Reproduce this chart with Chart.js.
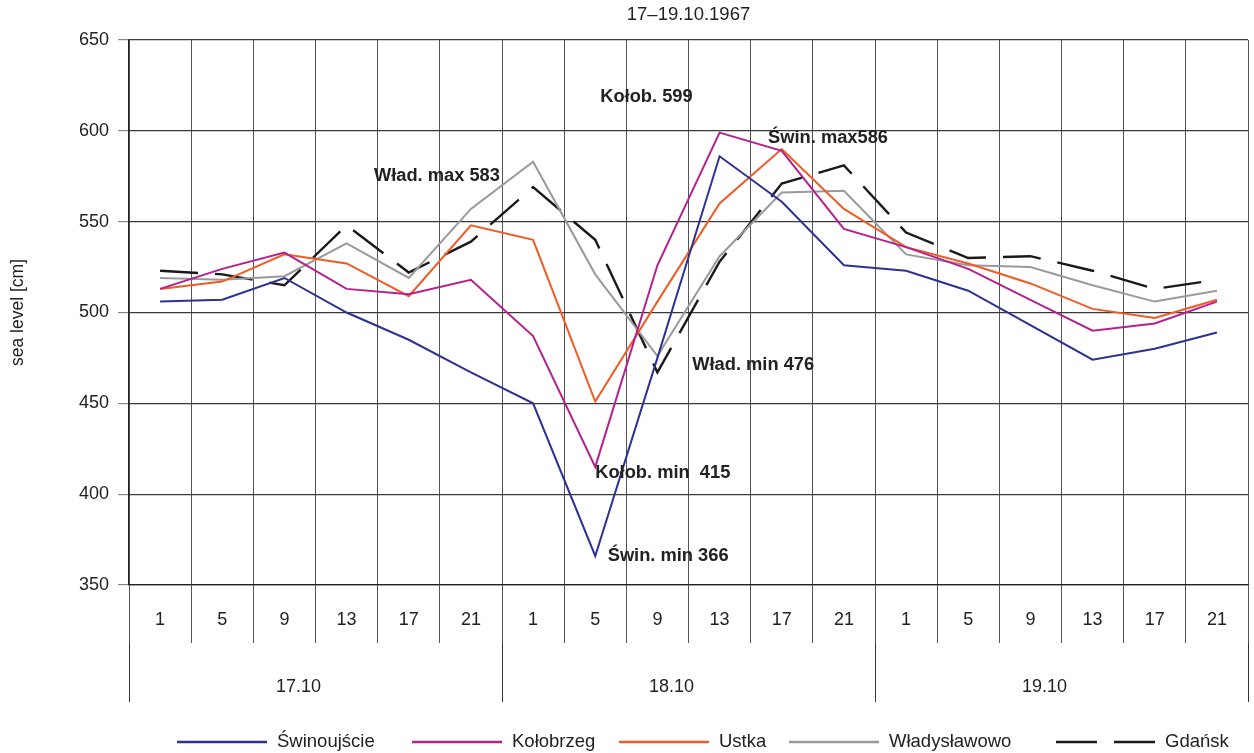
<!DOCTYPE html>
<html>
<head>
<meta charset="utf-8">
<script src="https://cdn.jsdelivr.net/npm/chart.js@4/dist/chart.umd.min.js"></script>
<style>
  html, body { margin: 0; padding: 0; background: #fff; }
  #wrap { width: 1254px; height: 753px; }
</style>
</head>
<body>
<div id="wrap"><canvas id="wykres"></canvas></div>
<script>
// godziny pomiarów (3 dni po 6 terminów)
const hours = ['1', '5', '9', '13', '17', '21', '1', '5', '9', '13', '17', '21', '1', '5', '9', '13', '17', '21'];
const days = ['17.10', '18.10', '19.10'];
const yTicks = [350, 400, 450, 500, 550, 600, 650];

// poziom morza [cm]
const swinoujscie = [506, 507, 519, 500, 485, 467, 450, 366, 475, 586, 561, 526, 523, 512, 493, 474, 480, 489];
const kolobrzeg = [513, 524, 533, 513, 510, 518, 487, 415, 526, 599, 589, 546, 536, 524, 507, 490, 494, 506];
const ustka = [513, 517, 532, 527, 509, 548, 540, 451, 506, 560, 590, 557, 536, 527, 516, 502, 497, 507];
const wladyslawowo = [519, 518, 520, 538, 519, 557, 583, 521, 476, 531, 566, 567, 532, 526, 525, 515, 506, 512];
const gdansk = [523, 521, 515, 548, 522, 539, 569, 540, 467, 528, 571, 581, 544, 530, 531, 523, 513, 518];

const tytul = '17–19.10.1967';

// opisy ekstremów: at = indeks kategorii (ułamkowy), v = wartość na osi y
const opisy = [
    { text: 'Kołob. 599', at: 7.08, v: 618.6 },
    { text: 'Świn. max586', at: 9.78, v: 596 },
    { text: 'Wład. max 583', at: 3.44, v: 575 },
    { text: 'Wład. min 476', at: 8.56, v: 471 },
    { text: 'Kołob. min  415', at: 7.0, v: 411.7 },
    { text: 'Świn. min 366', at: 7.2, v: 366 }
];

const FONT = '"Liberation Sans", Arial, Helvetica, sans-serif';

function seria(label, data, color, dash) {
    return {
        label, data,
        borderColor: color, backgroundColor: color,
        borderWidth: dash ? 2.4 : 2,
        borderDash: dash || [],
        pointRadius: 0, tension: 0, fill: false
    };
}

// tytuł, opisy i legenda rysowane ręcznie
const dodatki = {
    id: 'dodatki',
    afterDraw(chart) {
        const { ctx, chartArea, scales } = chart;
        ctx.save();
        ctx.fillStyle = '#222';
        ctx.textBaseline = 'middle';

        ctx.font = '18.5px ' + FONT;
        ctx.textAlign = 'center';
        ctx.fillText(tytul, (chartArea.left + chartArea.right) / 2, 15);

        ctx.font = 'bold 18.3px ' + FONT;
        ctx.textAlign = 'left';
        opisy.forEach(o => {
            ctx.fillText(o.text, scales.x.getPixelForValue(o.at), scales.y.getPixelForValue(o.v));
        });

        // legenda
        const startX = [177, 412, 619, 789, 1056];
        const lineW = [90, 90, 90, 90, 99];
        const ly = 742;
        ctx.font = '18.5px ' + FONT;
        chart.data.datasets.forEach((ds, i) => {
            ctx.beginPath();
            ctx.strokeStyle = ds.borderColor;
            ctx.lineWidth = 2.6;
            ctx.setLineDash(ds.borderDash.length ? [41, 17] : []);
            ctx.moveTo(startX[i], ly);
            ctx.lineTo(startX[i] + lineW[i], ly);
            ctx.stroke();
            ctx.setLineDash([]);
            ctx.fillStyle = '#222';
            ctx.fillText(ds.label, startX[i] + lineW[i] + 10, ly);
        });
        ctx.restore();
    }
};

new Chart(document.getElementById('wykres'), {
    type: 'line',
    data: {
        labels: hours,
        datasets: [
            seria('Świnoujście', swinoujscie, '#2e3192'),
            seria('Kołobrzeg', kolobrzeg, '#b5208e'),
            seria('Ustka', ustka, '#f15a24'),
            seria('Władysławowo', wladyslawowo, '#9a9a9a'),
            seria('Gdańsk', gdansk, '#1a1a1a', [38, 17])
        ]
    },
    options: {
        responsive: true,
        maintainAspectRatio: false,
        animation: false,
        layout: { padding: { top: 40, right: 6, bottom: 50, left: 0 } },
        plugins: {
            legend: { display: false },
            tooltip: { enabled: false }
        },
        scales: {
            x: {
                type: 'category',
                position: 'bottom',
                weight: 0,
                offset: true,
                afterFit(s) { s.height = 58; },
                grid: { offset: true, color: '#555', lineWidth: 1, tickLength: 58, drawTicks: true },
                border: { display: true, color: '#222', width: 1.2 },
                ticks: { color: '#222', font: { family: FONT, size: 18 }, padding: -34, maxRotation: 0, autoSkip: false }
            },
            xDni: {
                type: 'category',
                position: 'bottom',
                weight: 1,
                labels: days,
                offset: true,
                afterFit(s) { s.height = 60; },
                grid: { offset: true, drawOnChartArea: false, color: '#333', lineWidth: 1, tickLength: 59 },
                border: { display: false },
                ticks: { color: '#222', font: { family: FONT, size: 18 }, padding: -26, labelOffset: -17, maxRotation: 0 }
            },
            y: {
                min: 350,
                max: 650,
                afterFit(s) { s.width = 129; },
                afterBuildTicks(s) { s.ticks = yTicks.map(v => ({ value: v })); },
                grid: { color: '#3a3a3a', lineWidth: 1.2, tickLength: 11, tickColor: '#888' },
                border: { display: true, color: '#222', width: 1.2 },
                ticks: { color: '#222', font: { family: FONT, size: 18 }, padding: 9 },
                title: {
                    display: true,
                    text: 'sea level [cm]',
                    color: '#222',
                    font: { family: FONT, size: 17.5 },
                    padding: { top: 8, bottom: 0 }
                }
            }
        }
    },
    plugins: [dodatki]
});
</script>
</body>
</html>
